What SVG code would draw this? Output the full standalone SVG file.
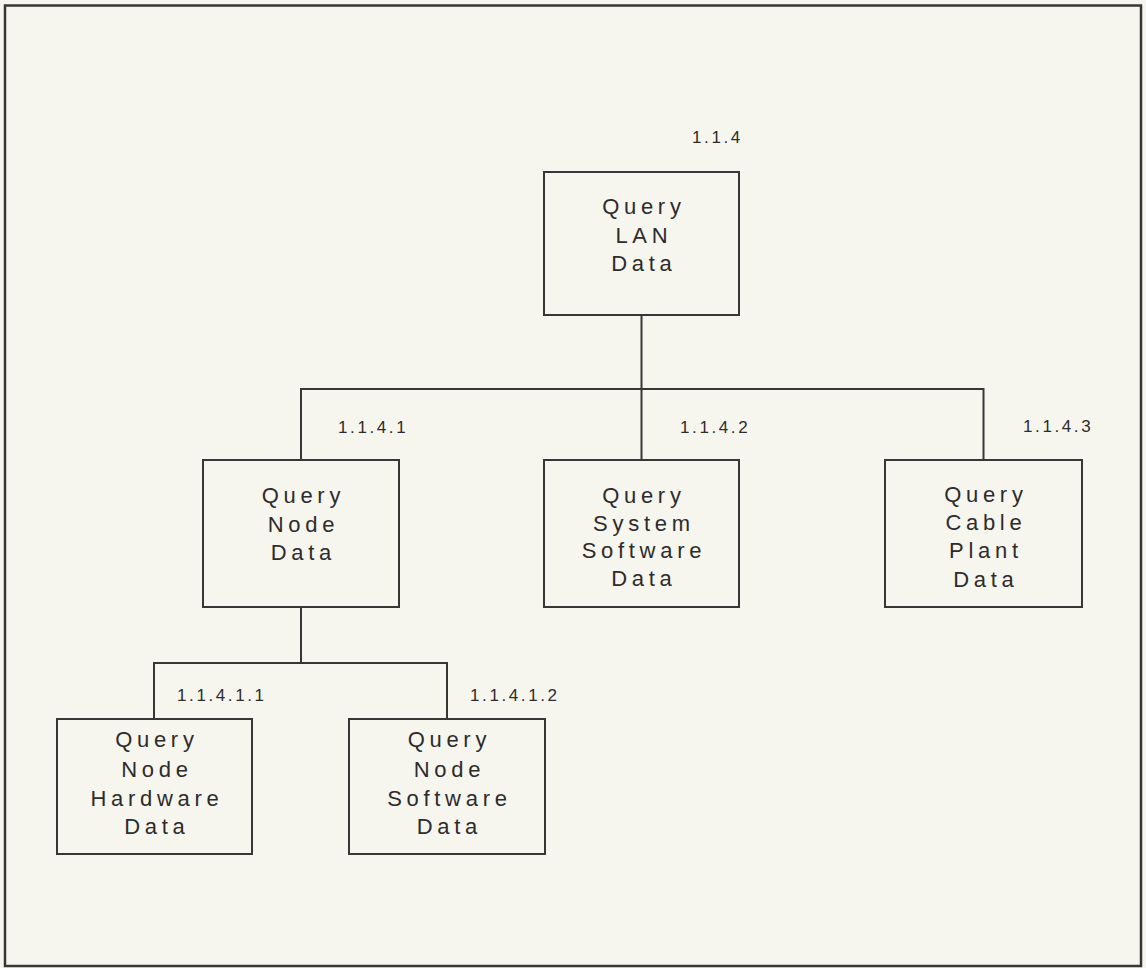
<svg xmlns="http://www.w3.org/2000/svg" width="1146" height="968" viewBox="0 0 1146 968">
<style>
.bg{fill:#f6f6ef}
.frame{fill:none;stroke:#3a3636;stroke-width:2.5}
.box{fill:#f6f6ef;stroke:#3a3636;stroke-width:2}
.wire{fill:none;stroke:#3a3636;stroke-width:2}
.t{font-family:"Liberation Sans",Arial,sans-serif;font-size:22px;letter-spacing:4.7px;fill:#2e2b2b;text-anchor:middle}
.lbl{font-family:"Liberation Sans",Arial,sans-serif;font-size:17px;letter-spacing:2.6px;fill:#2e2b2b}
</style>
<rect class="bg" x="0" y="0" width="1146" height="968"/>
<rect class="frame" x="5" y="5.5" width="1136" height="960.5"/>
<g id="connectors">
<path class="wire" d="M641.5,315 V389 M301,460 V389 H983.5 V460 M641.5,389 V460"/>
<path class="wire" d="M301,607 V663 M154,719 V663 H447 V719"/>
</g>
<g id="n114">
<rect class="box" x="544" y="172" width="195" height="143"/>
<text class="t" x="643.9" y="214">Query</text>
<text class="t" x="643.9" y="243">LAN</text>
<text class="t" x="643.9" y="271">Data</text>
<text class="lbl" x="692" y="143">1.1.4</text>
</g>
<g id="n1141">
<rect class="box" x="203" y="460" width="196" height="147"/>
<text class="t" x="303.4" y="503">Query</text>
<text class="t" x="303.4" y="532">Node</text>
<text class="t" x="303.4" y="560">Data</text>
<text class="lbl" x="338" y="433">1.1.4.1</text>
</g>
<g id="n1142">
<rect class="box" x="544" y="460" width="195" height="147"/>
<text class="t" x="643.9" y="503">Query</text>
<text class="t" x="643.9" y="531">System</text>
<text class="t" x="643.9" y="558">Software</text>
<text class="t" x="643.9" y="586">Data</text>
<text class="lbl" x="680" y="433">1.1.4.2</text>
</g>
<g id="n1143">
<rect class="box" x="885" y="460" width="197" height="147"/>
<text class="t" x="985.9" y="502">Query</text>
<text class="t" x="985.9" y="530">Cable</text>
<text class="t" x="985.9" y="558">Plant</text>
<text class="t" x="985.9" y="587">Data</text>
<text class="lbl" x="1023" y="432">1.1.4.3</text>
</g>
<g id="n11411">
<rect class="box" x="57" y="719" width="195" height="135"/>
<text class="t" x="156.9" y="747">Query</text>
<text class="t" x="156.9" y="777">Node</text>
<text class="t" x="156.9" y="806">Hardware</text>
<text class="t" x="156.9" y="834">Data</text>
<text class="lbl" x="177" y="701">1.1.4.1.1</text>
</g>
<g id="n11412">
<rect class="box" x="349" y="719" width="196" height="135"/>
<text class="t" x="449.4" y="747">Query</text>
<text class="t" x="449.4" y="777">Node</text>
<text class="t" x="449.4" y="806">Software</text>
<text class="t" x="449.4" y="834">Data</text>
<text class="lbl" x="470" y="701">1.1.4.1.2</text>
</g>
</svg>
